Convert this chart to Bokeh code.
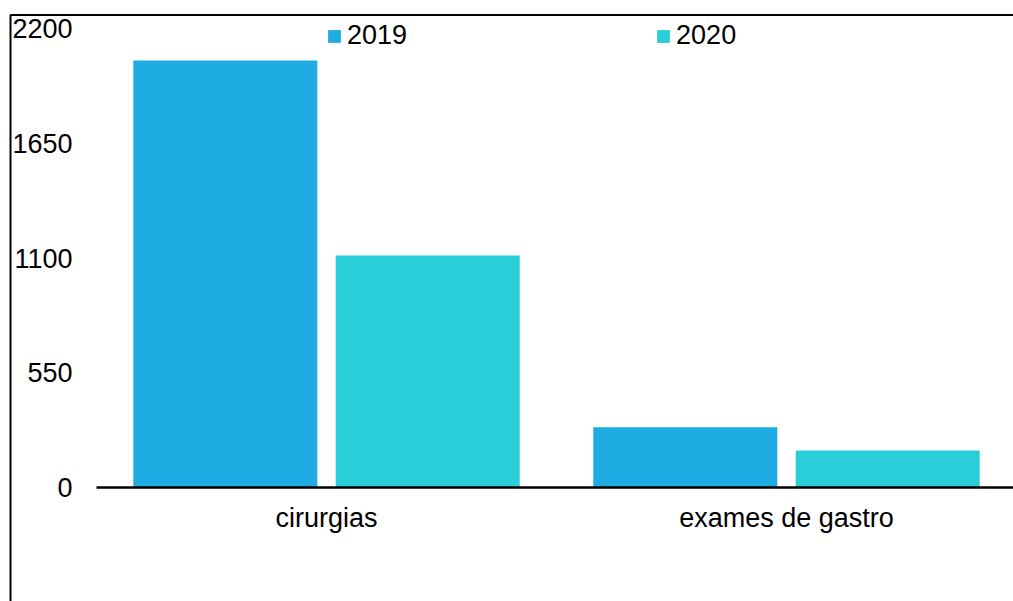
from bokeh.plotting import figure
from bokeh.models import ColumnDataSource, Range1d, FixedTicker, Legend, LegendItem
from bokeh.transform import dodge
from bokeh.embed import file_html
from bokeh.resources import INLINE

categories = ["cirurgias", "exames de gastro"]
series_names = ["2019", "2020"]
values_2019 = [2047, 289]
values_2020 = [1112, 177]
y_ticks = [0, 550, 1100, 1650, 2200]
colors = ["#1FACE3", "#29CED8"]

FONT = "Liberation Sans"
FSIZE = "27px"
W, H = 1013, 601

# pixel layout of the plotting area (used to set ranges)
PX_PER_CAT = 460.0          # px per category
X0_PX = 326.0               # pixel of first category centre
Y0_PX = 487.0               # pixel of value 0
Y_TOP_PX = 28.0             # pixel of the top tick
y_scale = (Y0_PX - Y_TOP_PX) / y_ticks[-1]   # px per unit

x_start = -X0_PX / PX_PER_CAT
x_end = x_start + W / PX_PER_CAT
y_end = y_ticks[-1] + Y_TOP_PX / y_scale
y_start = -(H - Y0_PX) / y_scale

idx = list(range(len(categories)))
source = ColumnDataSource(dict(x=idx, v2019=values_2019, v2020=values_2020))

p = figure(width=W, height=H, x_range=Range1d(x_start, x_end),
           y_range=Range1d(y_start, y_end), output_backend="svg", toolbar_location=None,
           min_border_left=0, min_border_right=0, min_border_top=0, min_border_bottom=0)
p.outline_line_color = None
p.xgrid.visible = False
p.ygrid.visible = False
p.background_fill_color = "white"
p.border_fill_color = "white"

r1 = p.vbar(x=dodge("x", -0.22), top="v2019", width=0.40,
            source=source, color=colors[0], line_color=None)
r2 = p.vbar(x=dodge("x", 0.22), top="v2020", width=0.40,
            source=source, color=colors[1], line_color=None)

axis_left = -0.5  # left end of the category axis (half a category before the first)

# y axis
ya = p.yaxis[0]
ya.fixed_location = axis_left
ya.ticker = FixedTicker(ticks=y_ticks)
ya.axis_line_color = None
ya.major_tick_line_color = None
ya.minor_tick_line_color = None
ya.major_tick_out = 0
ya.major_tick_in = 0
ya.minor_tick_out = 0
ya.major_label_standoff = 24
ya.major_label_text_font = FONT
ya.major_label_text_font_size = FSIZE
ya.major_label_text_color = "black"

# x axis
xa = p.xaxis[0]
xa.fixed_location = 0
xa.bounds = (axis_left, x_end)
xa.ticker = FixedTicker(ticks=idx)
xa.major_label_overrides = {i: c for i, c in zip(idx, categories)}
xa.axis_line_color = "black"
xa.axis_line_width = 2.5
xa.major_tick_line_color = None
xa.minor_tick_line_color = None
xa.major_tick_out = 0
xa.major_tick_in = 0
xa.minor_tick_out = 0
xa.major_label_standoff = 15
xa.major_label_text_font = FONT
xa.major_label_text_font_size = FSIZE
xa.major_label_text_color = "black"

legend = Legend(items=[LegendItem(label=series_names[0], renderers=[r1]),
                       LegendItem(label=series_names[1], renderers=[r2])],
                orientation="horizontal", location=(326, 550))
legend.glyph_width = 16
legend.glyph_height = 16
legend.label_standoff = 5
legend.spacing = 248
legend.padding = 0
legend.margin = 0
legend.border_line_color = None
legend.background_fill_alpha = 0
legend.label_text_font = FONT
legend.label_text_font_size = FSIZE
legend.label_text_color = "black"
p.add_layout(legend, "center")

# outer chart border: only its left and top edges fall inside the page
bx = x_start + 10 / PX_PER_CAT
by = y_end - 14.5 / y_scale
p.line(x=[bx, bx, x_end + 1], y=[y_start - 100, by, by],
       line_color="black", line_width=2)

open("out.html", "w").write(file_html(p, INLINE))
